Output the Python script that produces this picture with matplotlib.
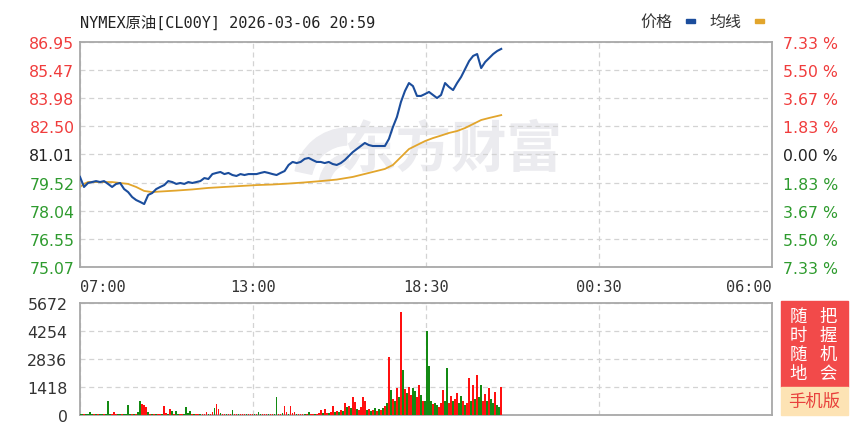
import numpy as np
import matplotlib.pyplot as plt
from matplotlib.patches import Rectangle, Wedge
from matplotlib.transforms import IdentityTransform

plt.rcParams['font.family'] = ['DejaVu Sans', 'Noto Sans CJK SC']

# ---- data ----
title = "NYMEX原油[CL00Y] 2026-03-06 20:59"
time_labels = ["07:00", "13:00", "18:30", "00:30", "06:00"]
session_minutes = 1380  # 07:00 -> 06:00 next day (23h)
price_ticks = [75.07, 76.55, 78.04, 79.52, 81.01, 82.50, 83.98, 85.47, 86.95]
pct_labels = ["7.33 %", "5.50 %", "3.67 %", "1.83 %", "0.00 %",
              "1.83 %", "3.67 %", "5.50 %", "7.33 %"]
vol_ticks = [0, 1418, 2836, 4254, 5672]

# last price, one value every 8 minutes from 07:00
price = [79.82, 79.29, 79.50, 79.55, 79.60, 79.55, 79.60, 79.45, 79.29, 79.45,
         79.50, 79.18, 79.02, 78.76, 78.60, 78.50, 78.39, 78.87, 78.97, 79.18,
         79.29, 79.39, 79.60, 79.55, 79.45, 79.50, 79.45, 79.55, 79.50, 79.55,
         79.60, 79.76, 79.71, 79.97, 80.03, 80.08, 79.97, 80.03, 79.92, 79.87,
         79.97, 79.92, 79.97, 79.97, 79.97, 80.03, 80.08, 80.03, 79.97, 79.92,
         80.03, 80.13, 80.45, 80.61, 80.55, 80.61, 80.77, 80.82, 80.71, 80.61,
         80.61, 80.55, 80.61, 80.50, 80.45, 80.55, 80.71, 80.92, 81.13, 81.29,
         81.45, 81.61, 81.50, 81.45, 81.45, 81.45, 81.45, 81.82, 82.45, 82.98,
         83.77, 84.35, 84.77, 84.61, 84.09, 84.09, 84.19, 84.30, 84.14, 83.98,
         84.14, 84.77, 84.56, 84.40, 84.77, 85.09, 85.51, 85.93, 86.20, 86.30,
         85.56, 85.88, 86.09, 86.30, 86.46, 86.57]

# average price line
avg_minutes = [0, 8, 16, 32, 48, 64, 80, 96, 112, 128, 144, 160, 192, 224, 256,
               288, 320, 352, 384, 416, 448, 480, 512, 544, 576, 608, 624, 640,
               656, 672, 688, 704, 720, 736, 752, 768, 784, 800, 816, 832, 840]
avg_price = [79.29, 79.45, 79.55, 79.55, 79.55, 79.55, 79.50, 79.45, 79.29, 79.08,
             79.02, 79.05, 79.10, 79.16, 79.24, 79.29, 79.34, 79.39, 79.42, 79.47,
             79.53, 79.60, 79.68, 79.82, 80.03, 80.24, 80.45, 80.87, 81.29, 81.50,
             81.71, 81.87, 82.00, 82.14, 82.24, 82.40, 82.61, 82.82, 82.93, 83.03,
             83.08]

# volume, one bar every 4 minutes; side: r = up, g = down
volume = [60, 50, 40, 50, 60, 135, 50, 40, 50, 60,
          50, 40, 60, 50, 700, 60, 50, 150, 60, 40,
          50, 60, 50, 60, 470, 50, 60, 40, 50, 150,
          680, 520, 480, 380, 150, 60, 50, 40, 60, 50,
          60, 50, 440, 80, 60, 290, 200, 60, 200, 50,
          60, 50, 60, 370, 80, 200, 50, 60, 40, 50,
          60, 50, 60, 120, 50, 60, 150, 330, 520, 300,
          80, 50, 60, 50, 40, 60, 230, 50, 60, 40,
          50, 60, 50, 40, 50, 60, 40, 50, 60, 130,
          50, 40, 60, 50, 40, 60, 50, 60, 900, 60,
          50, 80, 460, 150, 60, 440, 80, 120, 50, 60,
          50, 40, 60, 50, 120, 60, 50, 60, 40, 80,
          220, 90, 300, 100, 80, 150, 460, 120, 200, 150,
          250, 200, 590, 400, 450, 350, 900, 650, 300, 250,
          400, 880, 700, 250, 300, 200, 250, 350, 200, 300,
          250, 350, 450, 600, 2950, 1250, 800, 700, 1350, 900,
          5200, 2280, 1300, 1100, 1400, 1000, 1350, 1200, 900, 1500,
          1000, 700, 700, 4250, 2450, 700, 550, 600, 500, 400,
          600, 1250, 700, 2350, 600, 950, 700, 800, 1100, 600,
          950, 700, 500, 600, 1850, 700, 1500, 800, 2000, 900,
          1500, 700, 1050, 700, 1350, 800, 600, 1150, 500, 400,
          1400]
vol_side = ("ggrggggrgr" "ggrgggrrrg" "grggggrgrg" "grrrgrgrgr" "rgrrgrgrgg"
            "rrggggrgrr" "grrrgrrgrr" "grrgrrgrrg" "rrrgrrrgrg" "grrrgrrggr"
            "rgrrgrrrgr" "rrgrgrrgrr" "rgrrgrrgrg" "rgrgrgrrgr" "rrrgrgrgrg"
            "rgrgrgrgrg" "rgrgrrggrr" "grggggrggr" "rrggrrgrrg" "grgrrgrgrg"
            "grrgrggrgg" "r")

RED = '#f03c3c'
GREEN = '#2e9b2e'
price_colors = [GREEN] * 4 + ['#222222'] + [RED] * 4

price_x = np.arange(len(price)) * 8
vol_x = np.arange(len(volume)) * 4
tick_x = np.linspace(0, session_minutes, len(time_labels))

W, H = 852, 431
fig = plt.figure(figsize=(W / 100, H / 100), dpi=100)
ax = fig.add_axes([80 / W, 1 - 268 / H, 692 / W, 225.3 / H])
axv = fig.add_axes([80 / W, 1 - 415.7 / H, 692 / W, 111.7 / H])

grid_kw = dict(color='#d3d3d3', lw=0.9, ls=(0, (4, 3)))
for a in (ax, axv):
    a.set_xlim(0, session_minutes)
    a.set_xticks(tick_x)
    a.grid(True, **grid_kw)
    a.set_axisbelow(True)
    for s in a.spines.values():
        s.set_color('#a8a8a8')
        s.set_linewidth(1.3)

# watermark
WM = '#ebebef'
ax.text(0.537, 0.52, "东方财富", transform=ax.transAxes, fontsize=40,
        fontweight='bold', color=WM, ha='center', va='center',
        family=['Noto Sans CJK SC'], zorder=0)
for cx, cy, r, t1, t2, wd in ((348, 248, 54, 92, 168, 17), (352, 244, 33, 98, 172, 10)):
    ax.add_patch(Wedge((cx, cy), r, t1, t2, width=wd, color=WM,
                       transform=IdentityTransform(), zorder=0))

ax.plot(price_x, price, color='#1b4d9c', lw=1.5, zorder=3)
ax.plot(avg_minutes, avg_price, color='#e2a52c', lw=1.3, zorder=2)

ax.set_ylim(price_ticks[0], price_ticks[-1])
ax.set_yticks(price_ticks)
ax.set_yticklabels([f"{v:.2f}" for v in price_ticks])
for lab, c in zip(ax.get_yticklabels(), price_colors):
    lab.set_color(c)
ax.tick_params(axis='y', length=0, pad=4, labelsize=11.3)

ax2 = ax.twinx()
ax2.set_ylim(price_ticks[0], price_ticks[-1])
ax2.set_yticks(price_ticks)
ax2.set_yticklabels(pct_labels)
for lab, c in zip(ax2.get_yticklabels(), price_colors):
    lab.set_color(c)
ax2.tick_params(axis='y', length=0, pad=8, labelsize=11.3)
for s in ax2.spines.values():
    s.set_visible(False)

ax.set_xticklabels(time_labels, family='DejaVu Sans Mono', fontsize=11, color='#333333')
ax.tick_params(axis='x', length=0, pad=9)
xl = ax.get_xticklabels()
xl[0].set_ha('left')
xl[-1].set_ha('right')

# volume
colors = ['#ff1010' if s == 'r' else '#138a13' for s in vol_side]
axv.bar(vol_x, volume, width=3.4, color=colors, align='center', lw=0, zorder=3)
axv.set_ylim(0, vol_ticks[-1])
axv.set_yticks(vol_ticks)
axv.set_yticklabels([str(v) for v in vol_ticks])
axv.tick_params(axis='y', length=0, pad=9, labelsize=11.3, labelcolor='#333333')
axv.tick_params(axis='x', length=0, labelbottom=False)

# title and legend
fig.text(80 / W, 1 - 23.5 / H, title, family=['DejaVu Sans Mono', 'Noto Sans CJK SC'],
         fontsize=11, va='center', ha='left', color='#222222')
fig.text(656 / W, 1 - 22 / H, "价格", fontsize=11.5, va='center', ha='center',
         family=['Noto Sans CJK SC'], color='#333333')
fig.text(725 / W, 1 - 22 / H, "均线", fontsize=11.5, va='center', ha='center',
         family=['Noto Sans CJK SC'], color='#333333')
fig.patches.append(Rectangle((686 / W, 1 - 23.5 / H), 9 / W, 3.5 / H,
                             transform=fig.transFigure, color='#1b4d9c'))
fig.patches.append(Rectangle((755 / W, 1 - 23.5 / H), 9 / W, 3.5 / H,
                             transform=fig.transFigure, color='#e2a52c'))

# mobile ad box
fig.patches.append(Rectangle((781 / W, 1 - 388 / H), 67 / W, 86 / H,
                             transform=fig.transFigure, color='#f24a4a'))
fig.patches.append(Rectangle((781 / W, 1 - 416 / H), 67 / W, 28 / H,
                             transform=fig.transFigure, color='#fde3b4'))
for col_x, chars in ((798, "随时随地"), (828, "把握机会")):
    for i, ch in enumerate(chars):
        fig.text(col_x / W, 1 - (317 + 19 * i) / H, ch, fontsize=12.5,
                 color='white', style='italic', ha='center', va='center',
                 family=['Noto Sans CJK SC'])
fig.text(814 / W, 1 - 402 / H, "手机版", fontsize=12.5, color='#e8403c',
         ha='center', va='center', family=['Noto Sans CJK SC'])

fig.savefig('out.png', dpi=100)
